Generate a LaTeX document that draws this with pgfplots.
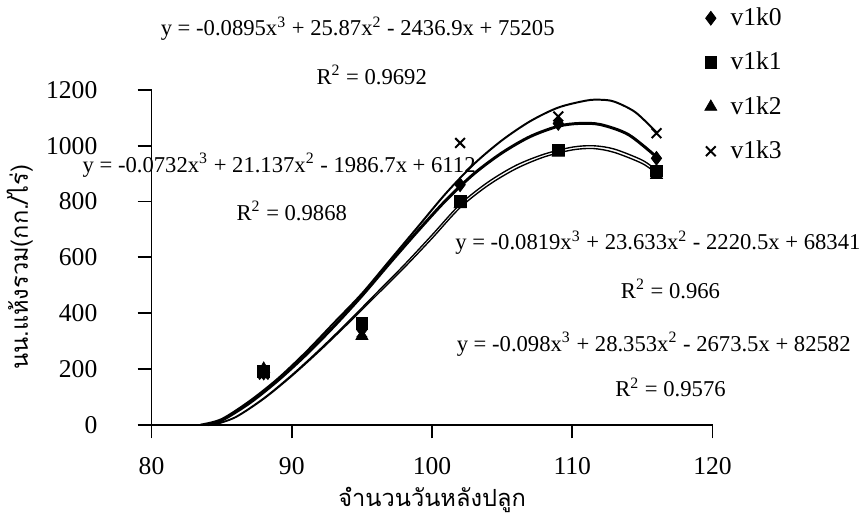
\documentclass[border=0pt]{standalone}
\usepackage{fontspec}
\setmainfont{Liberation Serif}
\newfontfamily\thaifont[Script=Thai]{Loma}
\usepackage{pgfplots}
\pgfplotsset{compat=1.18}

\begin{document}
\begin{tikzpicture}
\begin{axis}[
  scale only axis,
  width=285pt, height=170pt,
  xmin=80, xmax=120, ymin=0, ymax=1200,
  xtick={80,90,...,120}, ytick={0,200,...,1200},
  axis lines=left,
  axis line style={-, line width=0.9pt},
  tick align=outside, major tick length=7pt,
  tick style={black, line width=0.9pt},
  every tick label/.append style={font=\fontsize{13}{15}\selectfont},
  /pgf/number format/assume math mode=true,
  /pgf/number format/1000 sep={},
  xticklabel style={yshift=-6pt},
  yticklabel style={xshift=-17pt},
  xlabel={\thaifont จำนวนวันหลังปลูก},
  ylabel={\thaifont นน.แห้งรวม(กก./ไร่)},
  xlabel style={font=\fontsize{12}{14}\selectfont, at={(axis description cs:0.5,-0.225)}, anchor=center},
  ylabel style={font=\fontsize{12}{14}\selectfont, at={(axis description cs:-0.235,0.47)}, anchor=center},
  clip=false,
  legend style={at={(rel axis cs:0.975,1.27)}, anchor=north west, draw=none, fill=none,
    font=\fontsize{13}{15}\selectfont, row sep=8pt, column sep=5pt},
  legend cell align=left,
]
% trendline equations
\node[font=\fontsize{11.5}{14}\selectfont] at (axis cs:94.7,1419) {y = -0.0895x\textsuperscript{3} + 25.87x\textsuperscript{2} - 2436.9x + 75205};
\node[font=\fontsize{11.5}{14}\selectfont] at (axis cs:95.7,1253) {R\textsuperscript{2} = 0.9692};
\node[font=\fontsize{11.5}{14}\selectfont] at (axis cs:89.1,930) {y = -0.0732x\textsuperscript{3} + 21.137x\textsuperscript{2} - 1986.7x + 6112};
\node[font=\fontsize{11.5}{14}\selectfont] at (axis cs:90.0,766) {R\textsuperscript{2} = 0.9868};
\node[font=\fontsize{11.5}{14}\selectfont] at (axis cs:116.1,653) {y = -0.0819x\textsuperscript{3} + 23.633x\textsuperscript{2} - 2220.5x + 68341};
\node[font=\fontsize{11.5}{14}\selectfont] at (axis cs:117.0,487) {R\textsuperscript{2} = 0.966};
\node[font=\fontsize{11.5}{14}\selectfont] at (axis cs:115.8,289) {y = -0.098x\textsuperscript{3} + 28.353x\textsuperscript{2} - 2673.5x + 82582};
\node[font=\fontsize{11.5}{14}\selectfont] at (axis cs:117.0,134) {R\textsuperscript{2} = 0.9576};

% trend curves
\addplot[black, line width=1pt, smooth, forget plot] coordinates {
  (83.5,0) (85,20) (87,85) (89,165) (91,260) (93,365) (95,470) (97,590) (99,710)
  (101,830) (103,935) (105,1020) (107,1088) (109,1137) (111,1162) (112,1165)
  (113,1158) (114.5,1120) (116,1048)};
\addplot[black, line width=1.5pt, smooth, forget plot] coordinates {
  (84,0) (85,15) (87,78) (89,158) (91,250) (93,352) (95,462) (97,580) (99,695)
  (101,805) (103,900) (105,975) (107,1033) (109,1070) (110.5,1080) (112,1076)
  (114,1040) (116,960)};
\addplot[black, line width=0.7pt, smooth, forget plot] coordinates {
  (84.5,0) (86,28) (88,95) (90,178) (92,270) (94,368) (96,470) (98,572) (100,680)
  (102,790) (104,870) (106,930) (108,970) (110,995) (111.5,1000) (113,988)
  (115,948) (116,912)};
\addplot[black, line width=0.7pt, smooth, forget plot] coordinates {
  (84.5,0) (86,26) (88,92) (90,174) (92,265) (94,362) (96,462) (98,562) (100,668)
  (102,778) (104,858) (106,918) (108,960) (110,985) (111.5,990) (113,976)
  (115,936) (116,900)};

% observed data
\addplot[only marks, mark=diamond*, mark size=3.5pt, black] coordinates {
  (88,185) (95,340) (102,860) (109,1080) (116,955)};
\addplot[only marks, mark=square*, mark size=3pt, black] coordinates {
  (88,190) (95,362) (102,800) (109,985) (116,910)};
\addplot[only marks, mark=triangle*, mark size=3.5pt, black] coordinates {
  (88,200) (95,318) (102,790) (109,975) (116,895)};
\addplot[only marks, mark=x, mark size=3.5pt, black, line width=1pt] coordinates {
  (88,180) (95,330) (102,1010) (109,1105) (116,1045)};
\legend{v1k0,v1k1,v1k2,v1k3}
\end{axis}
\end{tikzpicture}
\end{document}
